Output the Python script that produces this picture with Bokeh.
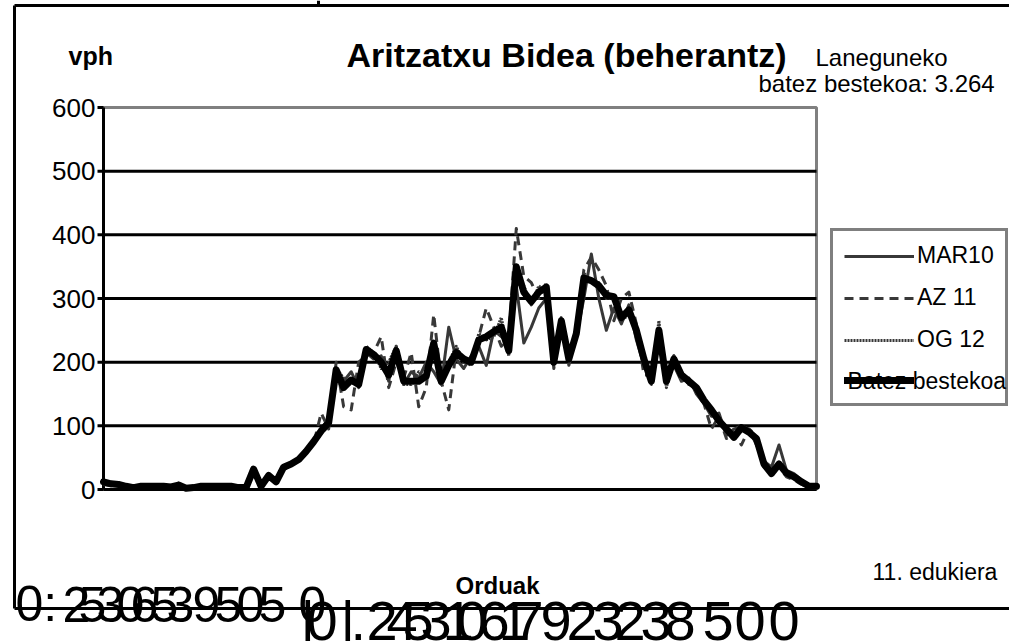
from bokeh.plotting import figure
from bokeh.models import (Range1d, Label, Legend, LegendItem, ColumnDataSource)
from bokeh.core.properties import value
from bokeh.embed import file_html
from bokeh.resources import INLINE

# ---------------- data ----------------
times = [f"{h}:{m:02d}" for h in range(24) for m in (0, 15, 30, 45)]
idx = list(range(len(times)))

mar10 = [10, 8, 6, 4, 3, 4, 6, 5, 4, 3, 8, 2, 3, 4, 5, 4, 5, 4, 2, 2,
         25, 8, 18, 15, 32, 38, 45, 62, 78, 95, 110, 180, 170, 185, 160, 215, 205, 210, 170, 225,
         165, 185, 175, 200, 185, 165, 255, 205, 190, 210, 225, 195, 250, 240, 230, 320, 230, 255, 285, 300,
         195, 260, 210, 240, 300, 370, 300, 250, 285, 260, 290, 235, 195, 175, 235, 180, 195, 170, 175, 150,
         135, 115, 120, 85, 95, 100, 95, 70, 45, 35, 70, 30, 25, 15, 5, 3]
az11 = [8, 6, 7, 5, 4, 3, 5, 6, 5, 4, 6, 3, 2, 5, 4, 6, 5, 5, 3, 4,
        28, 6, 20, 12, 30, 40, 50, 58, 72, 120, 95, 200, 130, 125, 200, 210, 215, 240, 160, 200,
        175, 215, 130, 160, 275, 170, 125, 220, 210, 195, 240, 285, 255, 225, 240, 410, 335, 325, 300, 325,
        190, 270, 195, 240, 345, 365, 345, 320, 265, 300, 310, 260, 180, 180, 240, 175, 210, 185, 165, 155,
        135, 95, 115, 80, 90, 70, 95, 85, 35, 25, 35, 20, 15, 8, 3, 2]
og12 = [12, 10, 8, 6, 4, 5, 4, 5, 6, 4, 10, 2, 3, 5, 6, 5, 4, 5, 3, 3,
        35, 4, 25, 10, 38, 42, 46, 58, 72, 88, 100, 190, 175, 165, 175, 225, 215, 190, 200, 225,
        165, 165, 185, 175, 225, 175, 200, 225, 200, 195, 245, 235, 240, 270, 210, 345, 320, 290, 320, 310,
        210, 270, 200, 250, 340, 325, 325, 300, 300, 265, 275, 255, 210, 165, 265, 160, 210, 180, 165, 160,
        140, 125, 110, 95, 80, 100, 90, 80, 40, 22, 42, 25, 18, 10, 6, 5]
batez = [12, 9, 8, 5, 3, 5, 5, 5, 5, 4, 7, 2, 3, 5, 5, 5, 5, 5, 3, 3,
         32, 5, 22, 12, 35, 40, 47, 60, 75, 92, 105, 188, 160, 172, 165, 220, 212, 200, 180, 218,
         170, 170, 170, 178, 230, 170, 195, 215, 205, 200, 235, 240, 248, 255, 218, 350, 310, 295, 310, 318,
         200, 265, 205, 245, 332, 328, 320, 305, 303, 270, 282, 250, 205, 170, 250, 170, 205, 180, 170, 160,
         140, 125, 108, 95, 82, 97, 90, 80, 40, 25, 40, 26, 20, 12, 5, 5]

series_names = ["MAR10", "AZ 11", "OG 12", "Batez bestekoa"]
y_ticks = [0, 100, 200, 300, 400, 500, 600]
y_tick_labels = [str(t) for t in y_ticks]

title_text = "Aritzatxu Bidea (beherantz)"
y_title = "vph"
x_title = "Orduak"
note1 = "Laneguneko"
note2 = "batez bestekoa: 3.264"
footer = "11. edukiera"

# overlapping oversized time labels, as they appear in the source
row1_labels = ["0:", "2", "5", "3", "0", "6", "5", "3", "9", "5", "0", "5", "0"]
row2_labels = ["|", "0", "|", ".", "2", "4", "5", "3", "1", "0", "6", "1", "7",
               "9", "2", "3", "2", "3", "8", "5", "0", "0"]

# ---------------- layout (pixels) ----------------
W, H = 1009, 641
FL, FR, FT, FB = 103, 816, 107, 489          # plot area
BL, BT, BB = 14, 5, 608                      # outer chart border (left, top, bottom)
row1_x = [15, 62, 78, 96, 116, 130, 150, 166, 192, 214, 236, 258, 298]
row2_x = [300, 306, 340, 350, 366, 386, 402, 420, 442, 456, 478, 498, 512,
          540, 566, 592, 614, 640, 664, 702, 734, 768]
FONT = "Liberation Sans"

x0, x1 = 0, len(times) - 1
y0, y1 = y_ticks[0], y_ticks[-1]
kx = (x1 - x0) / (FR - FL)
ky = (y1 - y0) / (FB - FT)
xr = Range1d(x0 - FL * kx, x1 + (W - FR) * kx)
yr = Range1d(y0 - (H - FB) * ky, y1 + FT * ky)

def dx(px):
    return xr.start + px * kx

def dy(py):
    return yr.end - py * ky

src = ColumnDataSource(dict(x=idx, t=times, mar10=mar10, az11=az11, og12=og12, batez=batez))

p = figure(width=W, height=H, x_range=xr, y_range=yr,
           output_backend="svg", toolbar_location=None,
           x_axis_location=None, y_axis_location=None,
           min_border=0, min_border_left=0, min_border_right=0,
           min_border_top=0, min_border_bottom=0)
p.background_fill_color = "white"
p.border_fill_color = "white"
p.outline_line_color = None
p.grid.visible = False

# outer chart border: left, top, bottom (open on the right, as in the source)
p.segment(x0=[dx(BL), dx(BL), dx(BL), dx(318)], y0=[dy(BT), dy(BT), dy(BB), dy(0)],
          x1=[dx(BL), dx(W + 10), dx(W + 10), dx(318)], y1=[dy(BB), dy(BT), dy(BB), dy(BT)],
          line_color="black", line_width=3)

# plot-area frame (grey top/right)
p.quad(left=[x0], right=[x1], bottom=[y0], top=[y1], fill_color=None,
       line_color="#808080", line_width=3)

# horizontal grid lines limited to the plot area
grid_y = y_ticks[:-1]
p.segment(x0=[x0] * len(grid_y), y0=grid_y, x1=[x1] * len(grid_y), y1=grid_y,
          line_color="black", line_width=3)

# y axis: line, outward ticks and labels
tick_len = 6 * kx
p.segment(x0=[x0], y0=[y0], x1=[x0], y1=[y1], line_color="black", line_width=3)
p.segment(x0=[x0 - tick_len] * len(y_ticks), y0=y_ticks, x1=[x0] * len(y_ticks), y1=y_ticks,
          line_color="black", line_width=3)
p.text(x=[x0 - tick_len - 2 * kx] * len(y_ticks), y=y_ticks, text=y_tick_labels,
       text_align="right", text_baseline="middle", text_font_size="26px",
       text_font=value(FONT), text_color="black")

r1 = p.line("x", "mar10", source=src, line_color="#383838", line_width=3, line_join="round")
r2 = p.line("x", "az11", source=src, line_color="#383838", line_width=3, line_dash="9 6", line_join="round")
r3 = p.line("x", "og12", source=src, line_color="#383838", line_width=3, line_dash="2 1", line_join="round")
r4 = p.line("x", "batez", source=src, line_color="black", line_width=7, line_join="round", line_cap="round")

LEG_TOP, LEG_LEFT = 227, 830
PAD, ITEM_H, SPC = 11, 28, 15
LEG_H = 2 * PAD + 4 * ITEM_H + 3 * SPC
legend = Legend(items=[LegendItem(label=n, renderers=[r])
                       for n, r in zip(series_names[:3] + [" "], [r1, r2, r3, r4])],
                location=(LEG_LEFT, H - LEG_TOP - LEG_H), orientation="vertical",
                border_line_color="black", border_line_width=3, background_fill_color="white",
                background_fill_alpha=0, label_text_font=FONT, label_text_font_size="23px",
                label_text_color="black",
                glyph_width=70, glyph_height=24, label_standoff=3, spacing=SPC, padding=PAD, margin=0,
                label_height=24)
p.add_layout(legend, "center")

def lab(text, x, base, size, bold=False, align="left"):
    # base = alphabetic baseline in pixels; anchor text by its middle
    p.add_layout(Label(x=dx(x), y=dy(base - 0.35 * size), text=text,
                       text_font=FONT, text_font_size=f"{size}px",
                       text_font_style="bold" if bold else "normal",
                       text_align=align, text_baseline="middle", text_color="black"))

lab(title_text, 566, 66, 34, bold=True, align="center")
lab(y_title, 68, 64, 25, bold=True)
lab(note1, 815, 65, 24)
lab(note2, 758, 91, 24)
lab(x_title, 455, 593, 24, bold=True)
lab(footer, 872, 580, 23)
# last legend entry text, overlapping its line as in the source
lab(series_names[3], 847, LEG_TOP + PAD + 3 * (ITEM_H + SPC) + ITEM_H / 2 + 8, 23)
for t, x in zip(row1_labels, row1_x):
    lab(t, x, 621, 50)
for t, x in zip(row2_labels, row2_x):
    lab(t, x, 640, 56)

open("out.html", "w").write(file_html(p, INLINE))
